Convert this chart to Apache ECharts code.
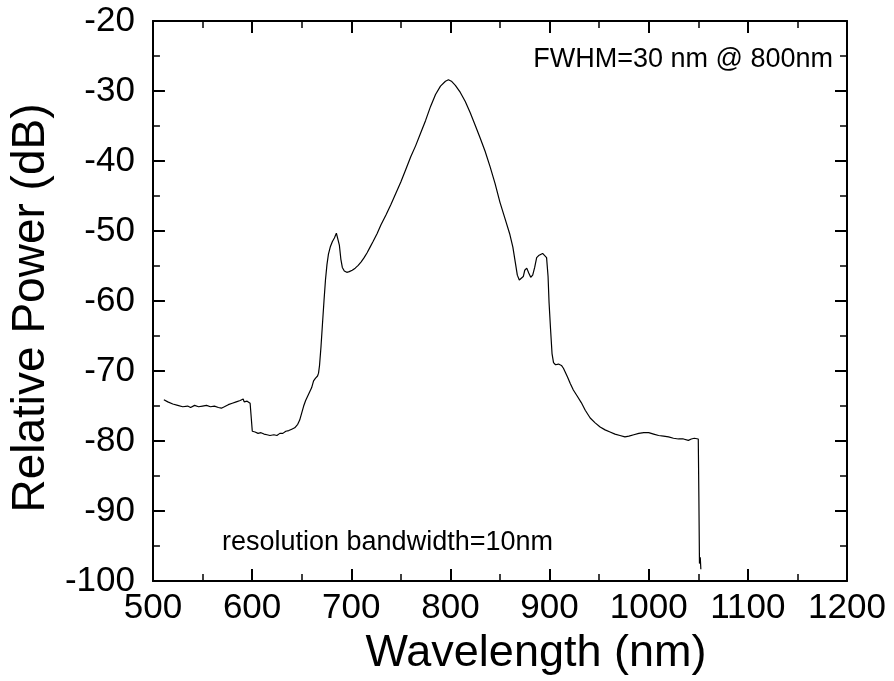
<!DOCTYPE html>
<html>
<head>
<meta charset="utf-8">
<script src="https://cdn.jsdelivr.net/npm/echarts@6/dist/echarts.min.js"></script>
<style>
html,body{margin:0;padding:0;background:#fff;}
#c{width:894px;height:681px;}
</style>
</head>
<body>
<div id="c"></div>
<script>
// Wavelength (nm)
var wavelength = [511,515,520,525,530,535,538,542,546,550,554,558,562,566,569,572,576,580,584,588,590,591,592,595,598,599.5,
600.2,603,606,609,612,615,618,620,622,625,628,631,634,637,640,643,646,648,650,652,654,656,658,660,662,664,666,667,668,669.5,
671,672.5,674,675.5,677,679,681,683,685,686.5,688,689.5,691,693,695.5,698,701,704,707,710,713,716,719,722,726,730,735,740,
745,750,755,760,765,770,775,780,785,790,795,798,801,805,810,815,820,825,830,835,840,845,850,855,860,863,865.5,867.5,869.5,
871.5,873.5,875,877,879,881,883,885,887,889,891,893,895,897,898.5,899.5,901,902.5,904,906,909,912,914,916,918,921,924,928,
932,936,941,946,951,956,961,966,971,976,980,985,990,995,1000,1005,1010,1015,1020,1025,1030,1035,1040,1043,1046,1048,1050,
1050.6,1051.2,1052,1052.6];
// Relative Power (dB)
var power = [-74.1,-74.4,-74.7,-74.9,-75.1,-75.0,-75.2,-74.9,-75.1,-75.0,-74.9,-75.1,-75.0,-75.2,-75.3,-75.1,-74.8,-74.6,-74.4,-74.2,-74.3,-74.0,-74.4,-74.3,-74.6,-74.8,
-78.6,-78.7,-78.9,-78.8,-79.0,-79.1,-79.2,-79.3,-79.1,-79.2,-78.9,-78.9,-78.6,-78.5,-78.3,-78.1,-77.6,-77.0,-76.0,-75.0,-74.2,-73.6,-73.0,-72.4,-71.4,-71.0,-70.7,-70.3,-69.2,-66.5,
-63.2,-60.0,-57.0,-54.8,-53.3,-52.2,-51.5,-51.0,-50.3,-50.5,-52.0,-54.0,-55.2,-55.7,-55.9,-55.8,-55.6,-55.3,-54.9,-54.4,-53.8,-53.1,-52.3,-51.5,-50.4,-49.1,-47.7,-46.2,
-44.6,-43.0,-41.2,-39.4,-37.8,-36.0,-34.2,-32.2,-30.5,-29.3,-28.6,-28.4,-28.6,-29.2,-30.2,-31.5,-33.1,-34.9,-36.7,-38.6,-40.8,-43.2,-45.9,-48.2,-50.5,-52.3,-54.5,-56.3,-57.0,
-57.1,-56.5,-55.6,-55.3,-56.0,-56.6,-56.3,-55.2,-53.8,-53.5,-53.5,-53.2,-53.3,-53.8,-56.5,-60.2,-64.0,-67.5,-68.8,-69.1,-69.0,-69.2,-69.6,-70.2,-70.8,-71.8,-72.7,-73.6,
-74.5,-75.6,-76.7,-77.4,-78.0,-78.4,-78.7,-79.0,-79.2,-79.4,-79.3,-79.1,-78.9,-78.8,-78.8,-79.0,-79.2,-79.3,-79.4,-79.6,-79.7,-79.7,-79.9,-79.7,-79.6,-79.6,-79.7,
-88,-97.5,-96.6,-98.3];
var xTickMin = 500, xTickMax = 1200, xTickStep = 100;
var yTickMin = -100, yTickMax = -20, yTickStep = 10;
var xTitle = 'Wavelength (nm)';
var yTitle = 'Relative Power (dB)';
var noteTop = 'FWHM=30 nm @ 800nm';
var noteBottom = 'resolution bandwidth=10nm';

var FONT = "'Liberation Sans', Arial, sans-serif";
var pts = wavelength.map(function (w, i) { return [w, power[i]]; });
function plain(v) { return String(v); }

function axisCommon() {
  return {
    axisLine: { show: true, onZero: false, lineStyle: { color: '#000', width: 2 } },
    axisTick: { show: true, inside: true, length: 12, lineStyle: { color: '#000', width: 2 } },
    minorTick: { show: true, splitNumber: 2, length: 7, lineStyle: { color: '#000', width: 1.5 } },
    splitLine: { show: false },
    minorSplitLine: { show: false }
  };
}

var chart = echarts.init(document.getElementById('c'), null, { renderer: 'canvas' });
chart.setOption({
  animation: false,
  backgroundColor: '#fff',
  grid: { left: 151, top: 21, right: 47, bottom: 98, containLabel: false },
  xAxis: [
    Object.assign(axisCommon(), {
      type: 'value', position: 'bottom', min: xTickMin, max: xTickMax, interval: xTickStep,
      axisLabel: { show: true, color: '#000', fontSize: 35, fontFamily: FONT, margin: 10, formatter: plain },
      name: xTitle, nameLocation: 'middle', nameGap: 42,
      nameTextStyle: { color: '#000', fontSize: 45, fontFamily: FONT, padding: [0, 0, 0, 72] }
    }),
    Object.assign(axisCommon(), {
      type: 'value', position: 'top', min: xTickMin, max: xTickMax, interval: xTickStep,
      axisLabel: { show: false }
    })
  ],
  yAxis: [
    Object.assign(axisCommon(), {
      type: 'value', position: 'left', min: yTickMin, max: yTickMax, interval: yTickStep,
      axisLabel: { show: true, color: '#000', fontSize: 35, fontFamily: FONT, margin: 18, formatter: plain },
      name: yTitle, nameLocation: 'middle', nameGap: 86, nameRotate: 90,
      nameTextStyle: { color: '#000', fontSize: 46, fontFamily: FONT, padding: [0, 14, 0, 0] }
    }),
    Object.assign(axisCommon(), {
      type: 'value', position: 'right', min: yTickMin, max: yTickMax, interval: yTickStep,
      axisLabel: { show: false }
    })
  ],
  graphic: [
    { type: 'text', right: 61, top: 46, style: { text: noteTop, fill: '#000', font: '27px ' + FONT } },
    { type: 'text', left: 222, top: 529, style: { text: noteBottom, fill: '#000', font: '27px ' + FONT } }
  ],
  series: [{
    type: 'line', data: pts, xAxisIndex: 0, yAxisIndex: 0,
    showSymbol: false, symbol: 'none', smooth: false,
    lineStyle: { color: '#000', width: 1.2 }
  }]
});
</script>
</body>
</html>
